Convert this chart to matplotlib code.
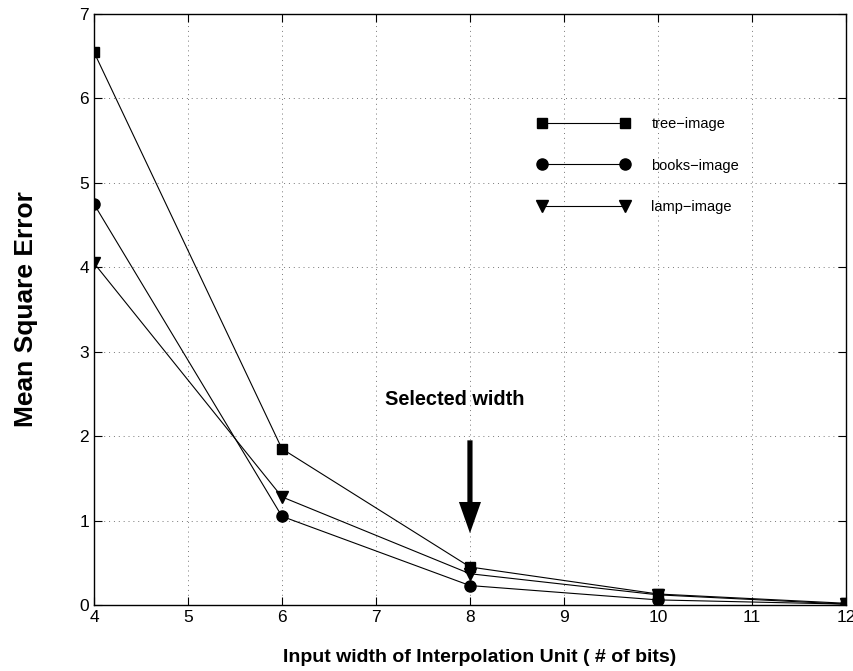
import matplotlib
matplotlib.use("Agg")
import matplotlib.pyplot as plt

plt.rcParams["font.family"] = ["Liberation Sans", "DejaVu Sans"]

# Data
widths = [4, 6, 8, 10, 12]
tree_mse = [6.55, 1.85, 0.45, 0.13, 0.02]
books_mse = [4.75, 1.05, 0.23, 0.06, 0.01]
lamp_mse = [4.05, 1.28, 0.37, 0.12, 0.01]

fig = plt.figure(figsize=(8.54, 6.71), dpi=100)
ax = fig.add_axes([0.110, 0.0984, 0.8806, 0.8807])

ax.plot(widths, tree_mse, color="black", lw=0.8, marker="s", ms=7, label="tree\u2212image")
ax.plot(widths, books_mse, color="black", lw=0.8, marker="o", ms=8, label="books\u2212image")
ax.plot(widths, lamp_mse, color="black", lw=0.8, marker="v", ms=8, label="lamp\u2212image")

ax.set_xlim(4, 12)
ax.set_ylim(0, 7)
ax.set_xticks(range(4, 13))
ax.set_yticks(range(0, 8))
ax.tick_params(direction="in", top=True, right=True, labelsize=12.5, length=5.5)
ax.grid(True, linestyle=(0, (1, 4)), color="#777777", linewidth=0.7)
for s in ax.spines.values():
    s.set_linewidth(1.0)

ax.set_xlabel("Input width of Interpolation Unit ( # of bits)", fontsize=14,
              fontweight="bold", labelpad=16)
ax.xaxis.set_label_coords(0.513, -0.075)
ax.set_ylabel("Mean Square Error", fontsize=19, fontweight="bold", labelpad=30)

# Selected width arrow
ax.arrow(8, 1.95, 0, -1.10, width=0.055, head_width=0.235, head_length=0.37,
         length_includes_head=True, fc="black", ec="none", zorder=4)
ax.text(7.1, 2.43, "Selected width", fontsize=14.4, fontweight="bold",
        ha="left", va="center")

ax.legend(loc="upper left", bbox_to_anchor=(0.59, 0.826), frameon=False,
          numpoints=2, handlelength=6.3, labelspacing=1.9, fontsize=10.5,
          handletextpad=1.5, borderpad=0, borderaxespad=0)

fig.savefig("out.png", dpi=100)
